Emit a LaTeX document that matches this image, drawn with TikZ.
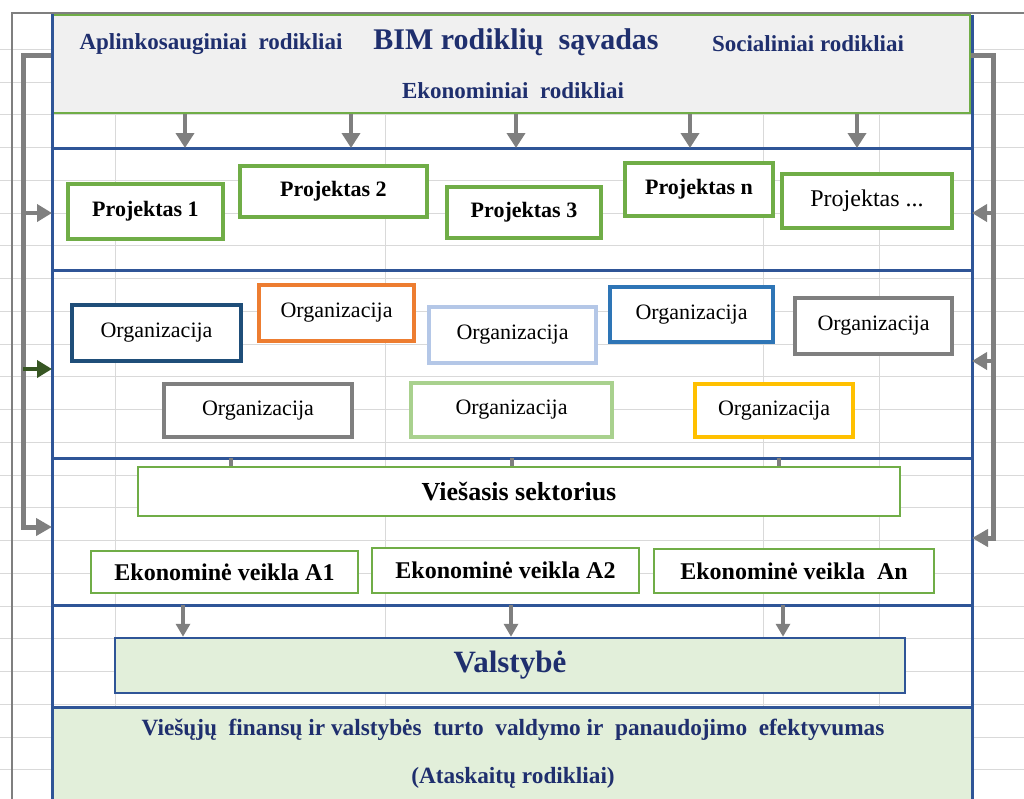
\documentclass[tikz,border=0pt]{standalone}
\usepackage{fontspec}
\setmainfont{Liberation Serif}
\usetikzlibrary{arrows.meta}
\definecolor{frameblue}{HTML}{2F5597}
\definecolor{boxgreen}{HTML}{70AD47}
\definecolor{navytext}{HTML}{1F2F6E}
\definecolor{headfill}{HTML}{F0F0F0}
\definecolor{statefill}{HTML}{E2EFDA}
\definecolor{arrowgray}{HTML}{7F7F7F}
\definecolor{gridgray}{HTML}{D9D9D9}
\definecolor{sheetgray}{HTML}{7F7F7F}
\definecolor{orgnavy}{HTML}{1F4E79}
\definecolor{orgorange}{HTML}{ED7D31}
\definecolor{orgpale}{HTML}{B4C7E7}
\definecolor{orgblue}{HTML}{2E75B6}
\definecolor{orggray}{HTML}{7F7F7F}
\definecolor{orglime}{HTML}{A9D18E}
\definecolor{orggold}{HTML}{FFC000}
\definecolor{feedgreen}{HTML}{375623}
\begin{document}
\begin{tikzpicture}[x=1pt, y=-1pt,
  proj/.style={draw=boxgreen, line width=3.5pt, fill=white, inner sep=0pt, font=\fontsize{22}{24}\selectfont\bfseries},
  org/.style={line width=4.5pt, fill=white, inner sep=0pt, font=\fontsize{22}{24}\selectfont},
  sect/.style={draw=boxgreen, line width=2.5pt, fill=white, inner sep=0pt, font=\fontsize{24}{26}\selectfont\bfseries},
  ttl/.style={text=navytext, inner sep=0pt, font=\fontsize{23}{25}\selectfont\bfseries},
  frameline/.style={draw=frameblue, line width=3pt},
  downarr/.style={draw=arrowgray, line width=4.5pt, -{Triangle[length=15pt,width=18pt]}},
  lowarr/.style={draw=arrowgray, line width=3.5pt, -{Triangle[length=13pt,width=14pt]}},
  sidearr/.style={draw=arrowgray, line width=4.5pt, -{Triangle[length=15pt,width=17pt]}},
  loopline/.style={draw=arrowgray, line width=5pt, line join=miter, -{Triangle[length=16pt,width=17pt]}},
  stub/.style={draw=arrowgray, line width=4pt}]
\useasboundingbox (0,0) rectangle (1024,798);
\foreach \k in {1,...,23}
  \draw[gridgray, line width=1pt] (0,{16.5+32.75*\k}) -- (1024,{16.5+32.75*\k});
\foreach \x in {115,385,763,879}
  \draw[gridgray, line width=1pt] (\x,13) -- (\x,798);
\draw[sheetgray, line width=1.5pt] (12,800) -- (12,13) -- (1024,13);
\coordinate (r2) at (52,148);
\coordinate (r3) at (52,270);
\coordinate (r4) at (52,458);
\coordinate (r5) at (52,605);
\coordinate (r2e) at (972,148);
\coordinate (r3e) at (972,270);
\coordinate (r4e) at (972,458);
\coordinate (r5e) at (972,605);
\node[draw=boxgreen, line width=2.5pt, fill=headfill, minimum width=918pt, minimum height=98pt, inner sep=0pt] (head) at (511,64) {};
\node[draw=frameblue, line width=3pt, fill=statefill, minimum width=920pt, minimum height=110pt, inner sep=0pt] (result) at (512,762) {};
\draw[frameline] (52,14) -- (52,800);
\draw[frameline] (972,15) -- (972,800);
\draw[frameline] (r2) -- (r2e);
\draw[frameline] (r3) -- (r3e);
\draw[frameline] (r4) -- (r4e);
\draw[frameline] (r5) -- (r5e);
\node[ttl] (envtxt) at (211,44) {Aplinkosauginiai\ \ rodikliai};
\node[ttl, font=\fontsize{30}{32}\selectfont\bfseries] (bimtxt) at (516,42) {BIM rodiklių\ \ sąvadas};
\node[ttl] (soctxt) at (808,44) {Socialiniai rodikliai};
\node[ttl] (ecotxt) at (513,91) {Ekonominiai\ \ rodikliai};
\coordinate (c1) at (185,0);
\coordinate (c2) at (351,0);
\coordinate (c3) at (516,0);
\coordinate (c4) at (690,0);
\coordinate (c5) at (857,0);
\draw[downarr] (head.south -| c1) -- (r2 -| c1);
\draw[downarr] (head.south -| c2) -- (r2 -| c2);
\draw[downarr] (head.south -| c3) -- (r2 -| c3);
\draw[downarr] (head.south -| c4) -- (r2 -| c4);
\draw[downarr] (head.south -| c5) -- (r2 -| c5);
\coordinate (lt) at (23,55);
\coordinate (lb) at (23,527);
\coordinate (la) at (23,213);
\coordinate (lc) at (23,369);
\coordinate (rt) at (993,55);
\coordinate (rb) at (993,538);
\coordinate (ra) at (993,213);
\coordinate (rc) at (993,361);
\draw[loopline] (head.west |- lt) -- (lt) -- (lb) -- (lb -| r2);
\draw[sidearr] (la) -- (la -| r2);
\draw[sidearr, draw=feedgreen] (lc) -- (lc -| r2);
\draw[loopline] (head.east |- rt) -- (rt) -- (rb) -- (rb -| r2e);
\draw[sidearr] (ra) -- (ra -| r2e);
\draw[sidearr] (rc) -- (rc -| r2e);
\node[proj, minimum width=155pt, minimum height=55pt] (p1) at (145.5,211.5) {Projektas 1};
\node[proj, minimum width=187pt, minimum height=51pt] (p2) at (333.5,191.5) {Projektas 2};
\node[proj, minimum width=154pt, minimum height=51pt] (p3) at (524,212.5) {Projektas 3};
\node[proj, minimum width=148pt, minimum height=53pt] (pn) at (699,189.5) {Projektas n};
\node[proj, minimum width=170pt, minimum height=54pt, font=\fontsize{24}{26}\selectfont] (pdots) at (867,201) {Projektas ...};
\node[org, draw=orgnavy, minimum width=169pt, minimum height=56pt] (o1) at (156.5,333) {Organizacija};
\node[org, draw=orgorange, minimum width=155pt, minimum height=56pt] (o2) at (336.5,313) {Organizacija};
\node[org, draw=orgpale, minimum width=167pt, minimum height=56pt] (o3) at (512.5,335) {Organizacija};
\node[org, draw=orgblue, minimum width=163pt, minimum height=55pt] (o4) at (691.5,314.5) {Organizacija};
\node[org, draw=orggray, minimum width=157pt, minimum height=56pt] (o5) at (873.5,326) {Organizacija};
\node[org, draw=orggray, minimum width=188pt, minimum height=53pt] (o6) at (258,410.5) {Organizacija};
\node[org, draw=orglime, minimum width=201pt, minimum height=54pt] (o7) at (511.5,410) {Organizacija};
\node[org, draw=orggold, minimum width=158pt, minimum height=53pt] (o8) at (774,410.5) {Organizacija};
\coordinate (s1) at (231,0);
\coordinate (s2) at (512,0);
\coordinate (s3) at (779,0);
\draw[stub] (r4 -| s1) -- ++(0,10);
\draw[stub] (r4 -| s2) -- ++(0,10);
\draw[stub] (r4 -| s3) -- ++(0,10);
\node[sect, minimum width=762pt, minimum height=49pt, font=\fontsize{26}{28}\selectfont\bfseries] (public) at (519,491.5) {Viešasis sektorius};
\node[sect, minimum width=267pt, minimum height=42pt] (ea1) at (224.5,572) {Ekonominė veikla A1};
\node[sect, minimum width=267pt, minimum height=45pt] (ea2) at (505.5,570.5) {Ekonominė veikla A2};
\node[sect, minimum width=280pt, minimum height=44pt] (ean) at (794,571) {Ekonominė veikla\ \ An};
\node[draw=frameblue, line width=2.5pt, fill=statefill, minimum width=790pt, minimum height=55pt, inner sep=0pt, text=navytext, font=\fontsize{31}{33}\selectfont\bfseries] (state) at (510,665.5) {Valstybė};
\coordinate (d1) at (183,0);
\coordinate (d2) at (511,0);
\coordinate (d3) at (783,0);
\draw[lowarr] (r5 -| d1) -- (state.north -| d1);
\draw[lowarr] (r5 -| d2) -- (state.north -| d2);
\draw[lowarr] (r5 -| d3) -- (state.north -| d3);
\node[ttl, font=\fontsize{23.3}{25}\selectfont\bfseries] (res1) at (513,730) {Viešųjų\ \ finansų ir valstybės\ \ turto\ \ valdymo ir\ \ panaudojimo\ \ efektyvumas};
\node[ttl, font=\fontsize{23.3}{25}\selectfont\bfseries] (res2) at (513,778) {(Ataskaitų rodikliai)};
\end{tikzpicture}
\end{document}
